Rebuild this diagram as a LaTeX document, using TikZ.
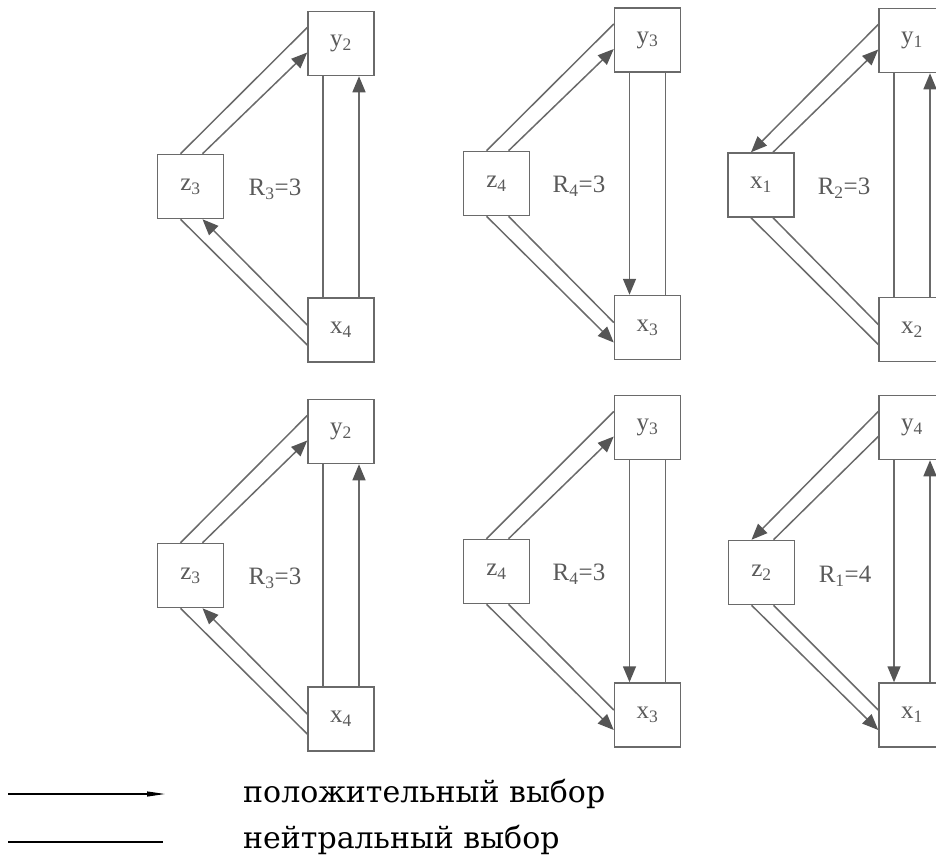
\documentclass[tikz,border=0pt]{standalone}
\usepackage{fontspec}
\setmainfont{Liberation Serif}
\newfontfamily\legfont{DejaVu Serif}
\usetikzlibrary{arrows.meta,calc}
\definecolor{lc}{HTML}{6A6A6A}
\definecolor{tc}{HTML}{5A5A5A}
\definecolor{ac}{HTML}{555555}
\tikzset{
  box/.style={draw=lc, line width=1.5pt, minimum width=66pt, minimum height=64pt,
    inner sep=0pt, text=tc, font=\fontsize{25}{25}\selectfont},
  lbl/.style={text=tc, font=\fontsize{25}{25}\selectfont, inner sep=0pt},
  ln/.style={draw=lc, line width=1.5pt},
  posarr/.style={ln, -{Triangle[length=16pt,width=13pt,color=ac]}},
  posarrb/.style={ln, {Triangle[length=16pt,width=13pt,color=ac]}-},
  legline/.style={draw=black, line width=1.1pt},
  legtext/.style={anchor=base west, inner sep=0pt, font={\legfont\fontsize{30}{32}\selectfont}}
}
\begin{document}
\begin{tikzpicture}[x=1pt,y=-1pt]
\useasboundingbox (0,0) rectangle (936,854);
% ---------- Panel 1 ----------
\node[box] (a1z) at (190.5,186.5) {z\textsubscript{3}};
\node[box] (a1y) at (341,43.5) {y\textsubscript{2}};
\node[box] (a1x) at (341,330) {x\textsubscript{4}};
\node[lbl] (a1r) at (275,189) {R\textsubscript{3}=3};
\draw[ln]      ($(a1z.north)+(-10,0)$) -- ($(a1y.west)+(0,-16)$);
\draw[posarr]  ($(a1z.north)+(12,0)$)  -- ($(a1y.west)+(0,9)$);
\draw[ln]      ($(a1z.south)+(-10,0)$) -- ($(a1x.west)+(0,15)$);
\draw[posarrb] ($(a1z.south)+(12,0)$)  -- ($(a1x.west)+(0,-5)$);
\draw[ln]      ($(a1y.south)+(-18,0)$) -- ($(a1x.north)+(-18,0)$);
\draw[posarrb] ($(a1y.south)+(18,0)$)  -- ($(a1x.north)+(18,0)$);
% ---------- Panel 2 ----------
\node[box] (a2z) at (496.5,183.5) {z\textsubscript{4}};
\node[box] (a2y) at (647.5,40) {y\textsubscript{3}};
\node[box] (a2x) at (647.5,327.5) {x\textsubscript{3}};
\node[lbl] (a2r) at (579,186) {R\textsubscript{4}=3};
\draw[ln]      ($(a2z.north)+(-10,0)$) -- ($(a2y.west)+(0,-16)$);
\draw[posarr]  ($(a2z.north)+(12,0)$)  -- ($(a2y.west)+(0,9)$);
\draw[posarr]  ($(a2z.south)+(-10,0)$) -- ($(a2x.west)+(0,15)$);
\draw[ln]      ($(a2z.south)+(12,0)$)  -- ($(a2x.west)+(0,-5)$);
\draw[posarr]  ($(a2y.south)+(-18,0)$) -- ($(a2x.north)+(-18,0)$);
\draw[ln]      ($(a2y.south)+(18,0)$)  -- ($(a2x.north)+(18,0)$);
% ---------- Panel 3 ----------
\node[box] (a3z) at (761,185) {x\textsubscript{1}};
\node[box] (a3y) at (912,40.5) {y\textsubscript{1}};
\node[box] (a3x) at (912,329.5) {x\textsubscript{2}};
\node[lbl] (a3r) at (844,188) {R\textsubscript{2}=3};
\draw[posarrb] ($(a3z.north)+(-10,0)$) -- ($(a3y.west)+(0,-16)$);
\draw[posarr]  ($(a3z.north)+(12,0)$)  -- ($(a3y.west)+(0,9)$);
\draw[ln]      ($(a3z.south)+(-10,0)$) -- ($(a3x.west)+(0,15)$);
\draw[ln]      ($(a3z.south)+(12,0)$)  -- ($(a3x.west)+(0,-5)$);
\draw[ln]      ($(a3y.south)+(-18,0)$) -- ($(a3x.north)+(-18,0)$);
\draw[posarrb] ($(a3y.south)+(18,0)$)  -- ($(a3x.north)+(18,0)$);
% ---------- Panel 4 ----------
\node[box] (b1z) at (190.5,575.5) {z\textsubscript{3}};
\node[box] (b1y) at (341,431.5) {y\textsubscript{2}};
\node[box] (b1x) at (341,719) {x\textsubscript{4}};
\node[lbl] (b1r) at (275,578) {R\textsubscript{3}=3};
\draw[ln]      ($(b1z.north)+(-10,0)$) -- ($(b1y.west)+(0,-16)$);
\draw[posarr]  ($(b1z.north)+(12,0)$)  -- ($(b1y.west)+(0,9)$);
\draw[ln]      ($(b1z.south)+(-10,0)$) -- ($(b1x.west)+(0,15)$);
\draw[posarrb] ($(b1z.south)+(12,0)$)  -- ($(b1x.west)+(0,-5)$);
\draw[ln]      ($(b1y.south)+(-18,0)$) -- ($(b1x.north)+(-18,0)$);
\draw[posarrb] ($(b1y.south)+(18,0)$)  -- ($(b1x.north)+(18,0)$);
% ---------- Panel 5 ----------
\node[box] (b2z) at (496.5,571.5) {z\textsubscript{4}};
\node[box] (b2y) at (647.5,427.5) {y\textsubscript{3}};
\node[box] (b2x) at (647.5,715) {x\textsubscript{3}};
\node[lbl] (b2r) at (579,574) {R\textsubscript{4}=3};
\draw[ln]      ($(b2z.north)+(-10,0)$) -- ($(b2y.west)+(0,-16)$);
\draw[posarr]  ($(b2z.north)+(12,0)$)  -- ($(b2y.west)+(0,9)$);
\draw[posarr]  ($(b2z.south)+(-10,0)$) -- ($(b2x.west)+(0,15)$);
\draw[ln]      ($(b2z.south)+(12,0)$)  -- ($(b2x.west)+(0,-5)$);
\draw[posarr]  ($(b2y.south)+(-18,0)$) -- ($(b2x.north)+(-18,0)$);
\draw[ln]      ($(b2y.south)+(18,0)$)  -- ($(b2x.north)+(18,0)$);
% ---------- Panel 6 ----------
\node[box] (b3z) at (761.5,572.5) {z\textsubscript{2}};
\node[box] (b3y) at (912,427.5) {y\textsubscript{4}};
\node[box] (b3x) at (912,715) {x\textsubscript{1}};
\node[lbl] (b3r) at (845,576) {R\textsubscript{1}=4};
\draw[posarrb] ($(b3z.north)+(-10,0)$) -- ($(b3y.west)+(0,-16)$);
\draw[ln]      ($(b3z.north)+(12,0)$)  -- ($(b3y.west)+(0,9)$);
\draw[posarr]  ($(b3z.south)+(-10,0)$) -- ($(b3x.west)+(0,15)$);
\draw[ln]      ($(b3z.south)+(12,0)$)  -- ($(b3x.west)+(0,-5)$);
\draw[posarr]  ($(b3y.south)+(-18,0)$) -- ($(b3x.north)+(-18,0)$);
\draw[posarrb] ($(b3y.south)+(18,0)$)  -- ($(b3x.north)+(18,0)$);
% ---------- Legend ----------
\coordinate (l1a) at (8,794);
\coordinate (l1b) at (165,794);
\coordinate (l2a) at (8,842);
\coordinate (l2b) at (163,842);
\draw[legline, -{Triangle[length=18pt,width=5pt]}] (l1a) -- (l1b);
\draw[legline] (l2a) -- (l2b);
\node[legtext] (t1) at (243,802) {положительный выбор};
\node[legtext] (t2) at (243,848) {нейтральный выбор};
\end{tikzpicture}
\end{document}
